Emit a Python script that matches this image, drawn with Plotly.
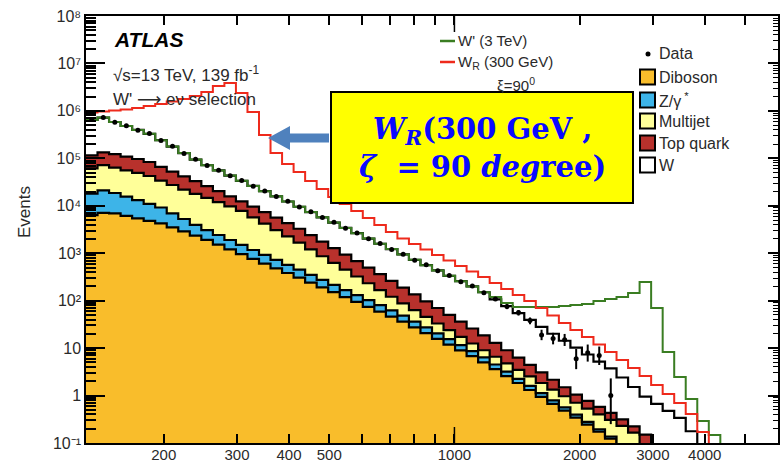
import numpy as np
import plotly.graph_objects as go

# ---------------- data ----------------
mt_min, mt_max, n_bins = 130.0, 6000.0, 60

diboson = [6380, 7060, 6900, 6110, 5450, 4820, 4250, 3500, 2880, 2360, 1910, 1520, 1200, 957, 762,
           604, 481, 383, 305, 240, 190, 151, 119, 94.0, 74.1, 58.7, 46.3, 36.1, 27.4, 20.7,
           15.7, 11.8, 8.93, 6.75, 5.01, 3.59, 2.56, 1.84, 1.31, 0.94, 0.668, 0.479, 0.343, 0.245,
           0.174, 0.124, 0, 0, 0, 0, 0, 0, 0, 0, 0, 0, 0, 0, 0, 0]
zgamma = [11700, 14000, 11700, 9490, 7650, 6180, 4950, 3430, 2380, 1610, 1160, 900, 700, 543, 408,
          316, 245, 187, 144, 111, 84, 64, 48, 37, 28.9, 21.5, 16.2, 12.3, 8.9, 6.6,
          4.8, 3.6, 2.67, 1.9, 1.36, 0.92, 0.63, 0.41, 0.29, 0.18, 0.125, 0.082, 0.055, 0.034,
          0.021, 0.013, 0, 0, 0, 0, 0, 0, 0, 0, 0, 0, 0, 0, 0, 0]
multijet = [43600, 50800, 44800, 40200, 36200, 31400, 24800, 20500, 16700, 13900, 11600, 9480, 7800,
            6300, 4540, 3290, 2350, 1700, 1220, 849, 589, 409, 282, 192, 130, 86.8, 58.5, 39.1,
            26.8, 18.3, 12.5, 8.5, 5.7, 3.85, 2.65, 2.07, 1.59, 1.22, 0.93, 0.72, 0.54, 0.405,
            0.307, 0.251, 0.207, 0.171, 0.230, 0.165, 0, 0, 0, 0, 0, 0, 0, 0, 0, 0, 0, 0]
topquark = [53300, 61100, 59600, 53200, 47500, 41200, 32200, 25100, 19600, 15100, 11200, 8400, 6100,
            4600, 3930, 3140, 2540, 2040, 1610, 1200, 887, 656, 484, 358, 266, 197, 141, 100,
            72.9, 51.2, 37.0, 26.3, 18.8, 13.4, 9.5, 6.3, 4.24, 2.83, 1.89, 1.24, 0.82, 0.53,
            0.345, 0.241, 0.176, 0.125, 0.084, 0.059, 0.150, 0, 0, 0, 0, 0, 0, 0, 0, 0, 0, 0]
wjets = [531000, 591000, 460000, 371000, 300000, 245000, 175000, 124000, 87400, 61400, 45700, 35300,
         27500, 21200, 16600, 13000, 10200, 7990, 6270, 4980, 3960, 3140, 2480, 1960, 1540, 1220,
         958, 756, 590, 464, 364, 284, 222, 174, 132, 94, 67.7, 48.5, 34.9, 25.0, 17.9, 12.8,
         9.15, 6.56, 4.61, 3.29, 2.09, 1.29, 0.80, 0.665, 0.476, 0.337, 0.177, 0, 0, 0, 0, 0, 0, 0]

wr_300 = [9.25e5, 9.71e5, 1.02e6, 1.07e6, 1.15e6, 1.27e6, 1.40e6, 1.58e6, 1.78e6, 2.06e6, 2.50e6,
          3.34e6, 3.87e6, 2.38e6, 9.47e5, 3.10e5, 1.29e5, 7.59e4, 5.15e4, 3.33e4, 2.25e4, 1.53e4,
          1.09e4, 7760, 5520, 3930, 2800, 2040, 1560, 1200, 916, 701, 537, 411, 315, 235, 176,
          131, 98.2, 70.0, 48.6, 33.8, 24.0, 17.1, 11.9, 8.26, 5.61, 3.80, 2.58, 1.67, 1.08,
          0.695, 0.407, 0.170, 0, 0, 0, 0, 0, 0]
wprime_3tev = [6.46e5, 7.24e5, 5.83e5, 4.80e5, 3.97e5, 3.29e5, 2.41e5, 1.77e5, 1.29e5, 9.44e4, 7.16e4,
               5.56e4, 4.33e4, 3.36e4, 2.62e4, 2.03e4, 1.58e4, 1.23e4, 9550, 7380, 5710, 4420,
               3410, 2640, 2040, 1580, 1220, 944, 726, 561, 434, 334, 258, 200, 150, 119, 89.1,
               73.4, 73.4, 73.4, 73.4, 77.1, 80.9, 84.9, 98.2, 108, 119, 145, 247, 70.0, 8.26,
               2.45, 0.843, 0.290, 0.147, 0, 0, 0, 0, 0]

data = [660000, 728000, 579000, 485000, 392000, 333000, 238000, 179000, 127000, 95800, 70500, 56300,
        42700, 34000, 25800, 20500, 15600, 12400, 9400, 7460, 5640, 4470, 3370, 2670, 2010, 1600,
        1200, 955, 712, 570, 425, 340, 251, 205, 146, 109, 75, 56, 38, 19, 16, 15, 6, 8, 7, 1,
        None, None, None, None, None, None, None, None, None, None, None, None, None, None]
data_err_hi = [0] * 30 + [21, 18, 16, 14, 12, 10, 8.7, 7.5, 6.2, 5.4, 5.0, 4.9, 3.6, 3.9, 3.8, 1.3] + [0] * 14
data_err_lo = [0] * 30 + [21, 18, 16, 14, 12, 10, 8.7, 7.5, 6.2, 4.3, 4.0, 3.9, 2.4, 2.8, 2.6, 0.75] + [0] * 14

x_tick_vals = [200, 300, 400, 500, 1000, 2000, 3000, 4000]
x_tick_text = ["200", "300", "400", "500", "1000", "2000", "3000", "4000"]
x_minor_vals = [600, 700, 800, 900, 5000]
y_tick_vals = [0.1, 1, 10, 1e2, 1e3, 1e4, 1e5, 1e6, 1e7, 1e8]
y_tick_text = ["10⁻¹", "1", "10", "10²", "10³", "10⁴", "10⁵", "10⁶", "10⁷", "10⁸"]

# ---------------- helpers ----------------
W, H = 780, 464
ML, MR, MT, MB = 86, 2, 16, 21
PW, PH = W - ML - MR, H - MT - MB


def px(x):
    return (x - ML) / PW


def py(y):
    return (H - MB - y) / PH


edges = np.geomspace(mt_min, mt_max, n_bins + 1)
centers = np.sqrt(edges[:-1] * edges[1:])
FLOOR = 1e-3


def step(vals):
    v = [max(float(a), FLOOR) for a in vals]
    return v + [v[-1]]


comps = [diboson, zgamma, multijet, topquark, wjets]
fills = ["#f9bd2b", "#3db4e8", "#ffff99", "#b8312c", "#ffffff"]
names = ["Diboson", "Z/γ*", "Multijet", "Top quark", "W"]
cum = np.cumsum(np.array(comps, dtype=float), axis=0)

fig = go.Figure()
fig.add_trace(go.Scatter(x=edges, y=[FLOOR] * len(edges), mode="lines",
                         line=dict(width=0, shape="hv"), hoverinfo="skip", showlegend=False))
for k in range(5):
    fig.add_trace(go.Scatter(x=edges, y=step(cum[k]), mode="lines", name=names[k],
                             line=dict(color="black", width=2.2, shape="hv"),
                             fill="tonexty", fillcolor=fills[k], showlegend=False))

fig.add_trace(go.Scatter(x=edges, y=step(wprime_3tev), mode="lines", name="W' (3 TeV)",
                         line=dict(color="#3a7d22", width=2, shape="hv"), showlegend=False))
fig.add_trace(go.Scatter(x=edges, y=step(wr_300), mode="lines", name="W_R (300 GeV)",
                         line=dict(color="#ee2a1c", width=2, shape="hv"), showlegend=False))
fig.add_trace(go.Scatter(x=centers, y=data, mode="markers", name="Data",
                         marker=dict(color="black", size=5),
                         error_y=dict(type="data", symmetric=False, array=data_err_hi,
                                      arrayminus=data_err_lo, color="black", thickness=2, width=0),
                         showlegend=False))
# copy on the right-hand axis so that its ticks are drawn
fig.add_trace(go.Scatter(x=centers, y=data, mode="markers", marker=dict(opacity=0),
                         yaxis="y2", hoverinfo="skip", showlegend=False))

font_main = "Liberation Sans, Arial, Helvetica, sans-serif"
txt = "#2a2a2a"

y_minor = [k * 10.0 ** n for n in range(-1, 8) for k in range(2, 10)]

fig.update_layout(
    width=W, height=H, autosize=False,
    margin=dict(l=ML, r=MR, t=MT, b=MB, pad=0),
    paper_bgcolor="white", plot_bgcolor="white", showlegend=False,
    font=dict(family=font_main, color=txt),
    xaxis=dict(type="log", range=[np.log10(mt_min), np.log10(mt_max)],
               tickmode="array", tickvals=x_tick_vals, ticktext=x_tick_text,
               ticks="inside", ticklen=9, tickwidth=1.5, tickcolor="black",
               showline=True, linecolor="black", linewidth=1.5, mirror="allticks",
               showgrid=False, zeroline=False, automargin=False, ticklabelstandoff=-3,
               tickfont=dict(size=15, color=txt, family=font_main),
               minor=dict(tickvals=x_minor_vals, ticks="inside", ticklen=9, tickwidth=1.5,
                          tickcolor="black", showgrid=False)),
    yaxis=dict(type="log", range=[-1, 8], tickmode="array", tickvals=y_tick_vals,
               ticktext=y_tick_text, ticks="inside", ticklen=19, tickwidth=1.5,
               tickcolor="black", showline=True, linecolor="black", linewidth=1.5,
               mirror=True, showgrid=False, zeroline=False, automargin=False,
               tickfont=dict(size=16, color=txt, family=font_main),
               minor=dict(tickvals=y_minor, ticks="inside", ticklen=10, tickwidth=1.5,
                          tickcolor="black", showgrid=False)),
    yaxis2=dict(type="log", range=[-1, 8], overlaying="y", side="right",
                tickmode="array", tickvals=y_tick_vals, showticklabels=False,
                ticks="inside", ticklen=10, tickwidth=1.5, tickcolor="black",
                showline=False, showgrid=False, zeroline=False, automargin=False,
                minor=dict(tickvals=y_minor, ticks="inside", ticklen=5, tickwidth=1.2,
                           tickcolor="black", showgrid=False)),
)

shapes = []
# longer decade tick at 1000 (bottom and top)
x1000 = (np.log10(1000) - np.log10(mt_min)) / (np.log10(mt_max) - np.log10(mt_min))
shapes.append(dict(type="line", xref="paper", yref="paper", x0=x1000, x1=x1000,
                   y0=0, y1=16 / PH, line=dict(color="black", width=1.5)))
shapes.append(dict(type="line", xref="paper", yref="paper", x0=x1000, x1=x1000,
                   y0=1, y1=1 - 16 / PH, line=dict(color="black", width=1.5)))

# legend: signal lines
shapes.append(dict(type="line", xref="paper", yref="paper", x0=px(440), x1=px(455),
                   y0=py(41), y1=py(41), line=dict(color="#3a7d22", width=2.5)))
shapes.append(dict(type="line", xref="paper", yref="paper", x0=px(440), x1=px(455),
                   y0=py(62), y1=py(62), line=dict(color="#ee2a1c", width=2.5)))
# legend: data marker
shapes.append(dict(type="circle", xref="paper", yref="paper", x0=px(645.5), x1=px(650.5),
                   y0=py(51.5), y1=py(56.5), fillcolor="black", line=dict(color="black", width=0)))
# legend: boxes
box_y = [77, 100, 121, 143, 165]
for k in range(5):
    shapes.append(dict(type="rect", xref="paper", yref="paper", x0=px(640), x1=px(655),
                       y0=py(box_y[k] + 7.5), y1=py(box_y[k] - 7.5), fillcolor=fills[k],
                       line=dict(color="black", width=2)))

# yellow callout box
shapes.append(dict(type="rect", xref="paper", yref="paper", x0=px(331), x1=px(633),
                   y0=py(203), y1=py(92), fillcolor="#ffff00", line=dict(color="black", width=2),
                   layer="above"))
# blue arrow
pts = [(268, 138), (290, 126), (290, 133.5), (329, 133.5), (329, 142.5), (290, 142.5), (290, 150)]
path = "M " + " L ".join(f"{px(a):.5f},{py(b):.5f}" for a, b in pts) + " Z"
shapes.append(dict(type="path", xref="paper", yref="paper", path=path, fillcolor="#4f81bd",
                   line=dict(color="#4f81bd", width=0), layer="above"))

annotations = []


def note(x, y, text, size, xanchor="left", color=txt, family=font_main):
    annotations.append(dict(x=px(x), y=py(y), xref="paper", yref="paper", text=text,
                            showarrow=False, xanchor=xanchor, yanchor="middle",
                            font=dict(size=size, color=color, family=family)))


note(112, 40, "<b><i>ATLAS</i></b>", 21, color="black")
note(111, 74, "√s=13 TeV, 139 fb<sup>-1</sup>", 17)
note(111, 99, "W' <span style='font-family:DejaVu Sans'>⟶</span> eν selection", 17)
note(456, 41, "W' (3 TeV)", 15)
note(456, 62, "W<sub>R</sub> (300 GeV)", 15)
note(516, 85, "ξ=90<sup>0</sup>", 15, xanchor="center")
note(657, 54, "Data", 16)
for k in range(5):
    note(657, box_y[k], ["Diboson", "Z/γ<sup> *</sup>", "Multijet", "Top quark", "W"][k], 16)

note(25, 212, "Events", 17, xanchor="center")
annotations[-1]["textangle"] = -90

annotations.append(dict(x=px(482), y=py(148), xref="paper", yref="paper", showarrow=False,
                        xanchor="center", yanchor="middle", align="center",
                        text="<b><i>W</i><sub><i>R</i></sub>(300 GeV ,</b><br>"
                             "<b><i>ζ</i>  = 90 <i>deg</i>ree)</b>",
                        font=dict(size=29, color="#0a0aff", family="DejaVu Serif, serif")))

fig.update_layout(shapes=shapes, annotations=annotations)
fig.write_html("out.html")
